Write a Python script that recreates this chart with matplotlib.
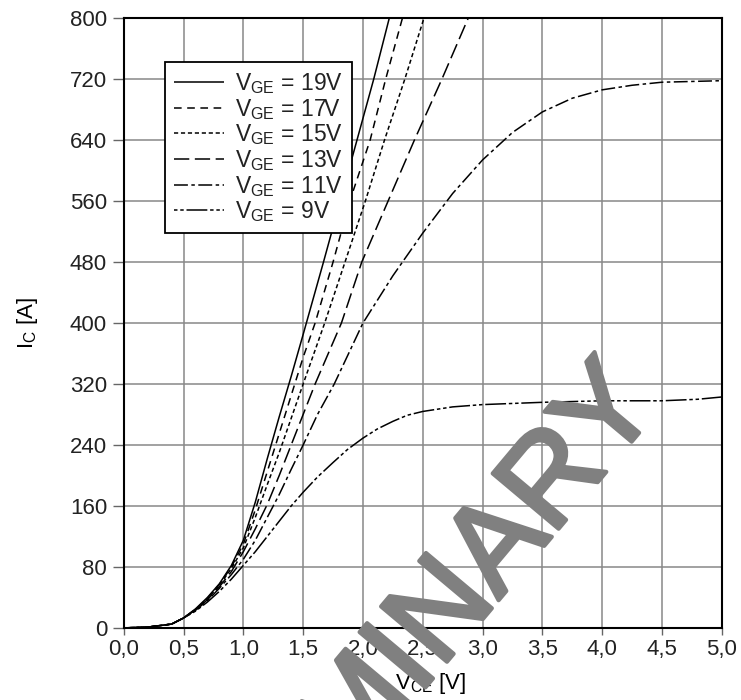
import matplotlib
matplotlib.use('Agg')
import matplotlib.pyplot as plt
import matplotlib.patheffects as pe
from matplotlib.ticker import MultipleLocator, FuncFormatter

plt.rcParams.update({
    'font.family': ['Liberation Sans', 'DejaVu Sans'],
    'mathtext.fontset': 'custom',
    'mathtext.rm': 'Liberation Sans',
    'lines.scale_dashes': False,
    'text.color': '#222222',
})

# ── output characteristic data ──
v19 = [0, 0.2, 0.4, 0.5, 0.6, 0.7, 0.8, 0.9, 1.0, 1.1, 1.2, 1.3, 1.4, 1.5, 1.67, 1.81, 1.95, 2.09, 2.22]
i19 = [0, 1, 5, 13, 25, 40, 58, 82, 115, 165, 222, 277, 330, 385, 480, 560, 640, 720, 800]

v17 = [0, 0.2, 0.4, 0.5, 0.6, 0.7, 0.8, 0.9, 1.0, 1.1, 1.2, 1.3, 1.4, 1.5, 1.6, 1.75, 1.89, 2.06, 2.19, 2.33]
i17 = [0, 1, 5, 13, 24, 39, 57, 80, 110, 155, 205, 255, 305, 355, 400, 480, 560, 640, 720, 800]

v15 = [0, 0.2, 0.4, 0.5, 0.6, 0.7, 0.8, 0.9, 1.0, 1.1, 1.2, 1.3, 1.4, 1.5, 1.68, 1.85, 2.02, 2.18, 2.35, 2.51]
i15 = [0, 1, 5, 13, 24, 38, 56, 78, 105, 145, 188, 230, 275, 320, 400, 480, 560, 640, 720, 800]

v13 = [0, 0.2, 0.4, 0.5, 0.6, 0.7, 0.8, 0.9, 1.0, 1.1, 1.2, 1.3, 1.4, 1.5, 1.6, 1.71, 1.82, 1.99, 2.21, 2.43, 2.66, 2.88]
i13 = [0, 1, 5, 13, 24, 37, 54, 74, 100, 130, 162, 200, 240, 280, 320, 360, 400, 480, 560, 640, 720, 800]

v11 = [0, 0.2, 0.4, 0.5, 0.6, 0.7, 0.8, 0.9, 1.0, 1.1, 1.2, 1.3, 1.4, 1.5, 1.62, 1.76, 1.88, 2.0,
       2.25, 2.5, 2.75, 3.0, 3.25, 3.5, 3.75, 4.0, 4.25, 4.5, 4.75, 5.0]
i11 = [0, 1, 5, 13, 23, 36, 52, 70, 90, 115, 145, 175, 208, 240, 280, 320, 360, 400,
       462, 518, 570, 614, 650, 677, 695, 706, 712, 716, 717, 718]

v9 = [0, 0.2, 0.4, 0.5, 0.6, 0.7, 0.8, 0.9, 1.0, 1.1, 1.2, 1.3, 1.4, 1.5, 1.62, 1.75, 1.87, 2.0,
      2.12, 2.25, 2.37, 2.5, 2.75, 3.0, 3.5, 4.0, 4.5, 4.8, 5.0]
i9 = [0, 1, 5, 13, 22, 34, 48, 64, 82, 100, 120, 140, 160, 178, 198, 217, 234, 249,
      261, 271, 279, 284, 290, 293, 296, 298, 298, 300, 303]

vge_labels = ['19V', '17V', '15V', '13V', '11V', '9V']
series = [(v19, i19), (v17, i17), (v15, i15), (v13, i13), (v11, i11), (v9, i9)]

# dash patterns (points)
styles = [
    (0, ()),
    (0, (5.5, 4.0)),
    (0, (3.0, 2.0)),
    (0, (11.0, 4.0)),
    (0, (10.0, 2.5, 2.5, 2.5)),
    (0, (2.5, 2.0, 2.5, 2.0, 15.0, 2.0)),
]

fig = plt.figure(figsize=(7.41, 7.00), dpi=100)
ax = fig.add_axes([0.167, 0.103, 0.807, 0.871])

for (v, i), lab, ls in zip(series, vge_labels, styles):
    ax.plot(v, i, color='black', lw=1.1, linestyle=ls,
            label=r'$\mathregular{V_{GE}}$ = ' + lab)

ax.set_xlim(0, 5)
ax.set_ylim(0, 800)
ax.xaxis.set_major_locator(MultipleLocator(0.5))
ax.yaxis.set_major_locator(MultipleLocator(80))
ax.xaxis.set_major_formatter(FuncFormatter(lambda x, p: f'{x:.1f}'.replace('.', ',')))
ax.yaxis.set_major_formatter(FuncFormatter(lambda y, p: f'{y:.0f}'))

ax.grid(True, color='#888888', lw=1.1)
ax.set_axisbelow(True)
for s in ax.spines.values():
    s.set_linewidth(1.5)
    s.set_color('black')

ax.tick_params(axis='both', labelsize=16, colors='#222222', direction='out')
ax.tick_params(axis='y', length=8, width=1.0, color='#666666', pad=4)
ax.tick_params(axis='x', length=5, width=1.0, color='#666666', pad=3)

ax.set_xlabel(r'$\mathregular{V_{CE}}$ [V]', fontsize=16)
ax.set_ylabel(r'$\mathregular{I_C}$ [A]', fontsize=16)
ax.xaxis.set_label_coords(0.513, -0.07)
ax.yaxis.set_label_coords(-0.14, 0.5)

leg = ax.legend(loc='upper left', bbox_to_anchor=(0.0686, 0.928), borderaxespad=0,
                fontsize=16.5, handlelength=2.2, handletextpad=0.45, labelspacing=0.03,
                borderpad=0.4, fancybox=False, framealpha=1, edgecolor='black')
leg.get_frame().set_linewidth(1.3)

# watermark
fig.text(0.494, -0.012, 'PRELIMINARY', rotation=50, rotation_mode='anchor',
         ha='center', va='center', fontsize=90, color='#808080', zorder=10,
         path_effects=[pe.withStroke(linewidth=3, foreground='#808080')])

fig.savefig('out.png', dpi=100, facecolor='white')
